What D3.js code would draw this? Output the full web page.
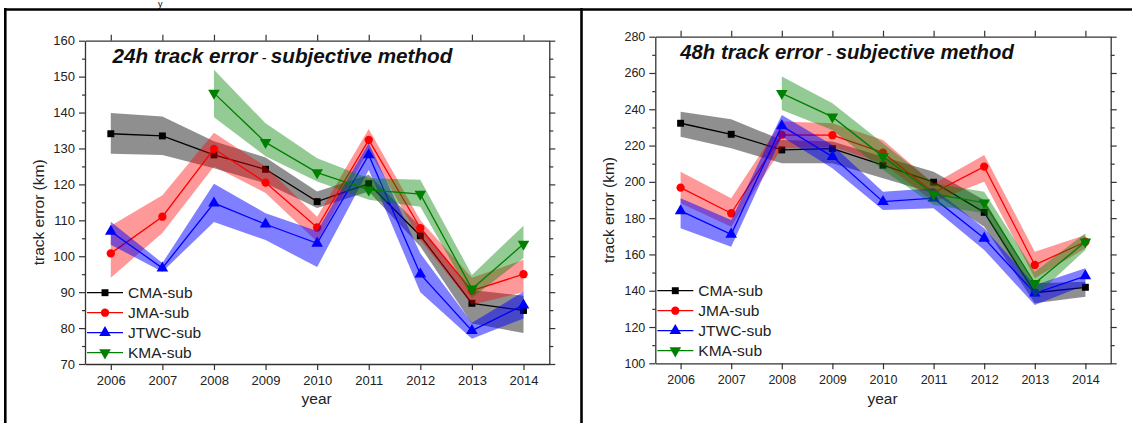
<!DOCTYPE html>
<html>
<head>
<meta charset="utf-8">
<script src="https://cdn.jsdelivr.net/npm/d3@7"></script>
<style>
  body { margin: 0; background: #fff; }
  svg { display: block; font-family: "Liberation Sans", Arial, sans-serif; }
</style>
</head>
<body>
<script>
// years on the x axis
const years = [2006, 2007, 2008, 2009, 2010, 2011, 2012, 2013, 2014]
const seriesNames = ["CMA-sub", "JMA-sub", "JTWC-sub", "KMA-sub"]

// 24h track error (km) + shaded band low/high
const cma24   = [134.1, 133.5, 128.2, 124.2, 115.2, 120.2, 105.7, 86.9, 84.9]
const cma24Lo = [128.5, 128.2, 124.5, 120.3, 113.4, 118.0, 102.7, 81.3, 78.6]
const cma24Hi = [139.9, 138.9, 132.0, 127.5, 118.0, 122.7, 108.3, 90.6, 89.0]
const jma24   = [100.8, 111.0, 129.9, 120.5, 108.0, 132.4, 107.8, 90.4, 95.0]
const jma24Lo = [94.0, 106.5, 125.0, 117.6, 104.0, 129.6, 104.5, 86.5, 90.0]
const jma24Hi = [108.5, 117.0, 134.4, 125.0, 111.0, 135.4, 110.0, 94.0, 99.0]
const jtwc24   = [106.9, 96.7, 114.8, 108.9, 103.6, 128.2, 95.0, 79.3, 86.4]
const jtwc24Lo = [103.2, 95.7, 109.5, 104.5, 97.0, 124.0, 90.0, 77.0, 82.7]
const jtwc24Hi = [109.6, 98.1, 120.2, 112.0, 107.0, 131.5, 100.8, 81.5, 90.1]
const kma24   = [null, null, 145.4, 131.7, 123.3, 118.5, 117.3, 90.9, 103.4]
const kma24Lo = [null, null, 138.7, 127.8, 120.8, 115.7, 113.8, 88.4, 99.5]
const kma24Hi = [null, null, 151.9, 137.0, 127.3, 121.7, 121.3, 94.8, 108.5]

// 48h track error (km)
const cma48   = [232.3, 226.2, 217.6, 218.3, 209.2, 199.8, 183.2, 138.9, 141.9]
const cma48Lo = [224.9, 218.5, 210.3, 210.3, 202.0, 193.7, 175.3, 133.1, 136.7]
const cma48Hi = [238.7, 234.5, 223.1, 222.2, 213.9, 205.6, 190.0, 144.1, 145.0]
const jma48   = [196.8, 182.7, 225.9, 225.7, 216.1, 194.0, 208.4, 154.2, 167.0]
const jma48Lo = [188.2, 175.3, 218.5, 219.4, 210.3, 189.0, 200.1, 146.9, 163.4]
const jma48Hi = [205.6, 191.0, 233.2, 232.3, 223.1, 199.0, 214.8, 161.5, 170.7]
const jtwc48   = [184.0, 171.1, 230.8, 213.9, 189.1, 191.0, 168.9, 138.6, 148.1]
const jtwc48Lo = [174.4, 164.3, 224.9, 207.5, 184.5, 185.4, 162.5, 132.1, 143.2]
const jtwc48Hi = [191.0, 179.0, 236.9, 220.3, 194.6, 196.5, 174.4, 143.2, 152.4]
const kma48   = [null, null, 248.8, 235.8, 213.9, 193.3, 188.5, 144.1, 167.0]
const kma48Lo = [null, null, 239.6, 228.6, 206.6, 187.3, 182.7, 136.7, 162.5]
const kma48Hi = [null, null, 258.0, 243.3, 221.3, 199.2, 194.6, 150.5, 171.7]

const ticks24 = [70, 80, 90, 100, 110, 120, 130, 140, 150, 160]
const ticks48 = [100, 120, 140, 160, 180, 200, 220, 240, 260, 280]

const colors = ["#000000", "#ff0000", "#0000ff", "#008000"]
const bandOpacity = [0.44, 0.4, 0.5, 0.42]
const symbols = [d3.symbolSquare, d3.symbolCircle, d3.symbolTriangle, d3.symbolTriangle]

const W = 1132, H = 423
const svg = d3.select("body").append("svg").attr("width", W).attr("height", H)

// frame of the table the figure sits in (plus a caption fragment above it)
svg.append("text").attr("x", 158).attr("y", 7).attr("font-size", 9).text("y")
svg.append("line").attr("x1", 4).attr("x2", W).attr("y1", 9.5).attr("y2", 9.5)
  .attr("stroke", "#000").attr("stroke-width", 2.6)
svg.append("line").attr("x1", 5.3).attr("x2", 5.3).attr("y1", 8).attr("y2", H)
  .attr("stroke", "#000").attr("stroke-width", 2.6)
svg.append("line").attr("x1", 581.5).attr("x2", 581.5).attr("y1", 8).attr("y2", H)
  .attr("stroke", "#000").attr("stroke-width", 2.6)

function panel(p) {
  const x = d3.scaleLinear().domain([2005.5, 2014.5]).range([p.left, p.right])
  const y = d3.scaleLinear().domain(p.domain).range([p.bottom, p.top])
  const g = svg.append("g")

  // series: band then line then markers
  p.series.forEach((s, i) => {
    const pts = years.map((yr, k) => ({ yr, v: s.v[k], lo: s.lo[k], hi: s.hi[k] }))
    const area = d3.area().defined(d => d.v != null)
      .x(d => x(d.yr)).y0(d => y(d.lo)).y1(d => y(d.hi))
    const line = d3.line().defined(d => d.v != null)
      .x(d => x(d.yr)).y(d => y(d.v))
    g.append("path").attr("d", area(pts))
      .attr("fill", colors[i]).attr("fill-opacity", bandOpacity[i])
    g.append("path").attr("d", line(pts))
      .attr("fill", "none").attr("stroke", colors[i]).attr("stroke-width", 1.3)
    g.selectAll(null).data(pts.filter(d => d.v != null)).enter()
      .append("path")
      .attr("d", d3.symbol().type(symbols[i]).size(i == 1 ? 54 : i == 0 ? 48 : 58))
      .attr("transform", d => `translate(${x(d.yr)},${y(d.v)})` + (i == 3 ? " rotate(180)" : ""))
      .attr("fill", colors[i])
  })

  // axes
  const minor = d3.range(p.domain[0], p.domain[1] + 0.01, p.minorStep).filter(v => !p.ticks.includes(v))
  const axisStyle = a => {
    a.selectAll(".domain").attr("stroke", "#333").attr("stroke-width", 1.3)
    a.selectAll(".tick line").attr("stroke", "#333").attr("stroke-width", 1.2)
    a.selectAll(".tick text").attr("fill", "#222").attr("font-size", p.tickFont)
      .attr("font-family", "Liberation Sans, Arial, sans-serif")
  }
  g.append("g").attr("transform", `translate(${p.left},0)`)
    .call(d3.axisLeft(y).tickValues(p.ticks).tickSize(6).tickSizeOuter(0).tickPadding(4))
    .call(axisStyle)
  g.append("g").attr("transform", `translate(${p.left},0)`)
    .call(d3.axisLeft(y).tickValues(minor).tickSize(3).tickFormat("")).call(axisStyle)
    .select(".domain").remove()
  g.append("g").attr("transform", `translate(${p.right},0)`)
    .call(d3.axisRight(y).tickValues(p.ticks).tickSize(6).tickSizeOuter(0).tickFormat(""))
    .call(axisStyle)
  g.append("g").attr("transform", `translate(${p.right},0)`)
    .call(d3.axisRight(y).tickValues(minor).tickSize(4).tickFormat("")).call(axisStyle)
    .select(".domain").remove()
  g.append("g").attr("transform", `translate(0,${p.bottom})`)
    .call(d3.axisBottom(x).tickValues(years).tickFormat(d3.format("d")).tickSize(6).tickSizeOuter(0).tickPadding(6))
    .call(axisStyle)
  g.append("g").attr("transform", `translate(0,${p.top})`)
    .call(d3.axisTop(x).tickValues(years).tickFormat("").tickSize(6).tickSizeOuter(0))
    .call(axisStyle)

  // axis titles
  g.append("text").attr("transform", `translate(${p.ylabX},${(p.top + p.bottom) / 2 + 10}) rotate(-90)`)
    .attr("text-anchor", "middle").attr("font-size", 15.5).attr("fill", "#222").text("track error (km)")
  g.append("text").attr("x", (p.left + p.right) / 2 - 0.5).attr("y", 403.5)
    .attr("text-anchor", "middle").attr("font-size", 15.5).attr("fill", "#222").text("year")

  // title
  const t = g.append("text").attr("x", p.left + p.titleDx).attr("y", p.titleY)
    .attr("font-size", p.titleSize).attr("font-weight", "bold").attr("font-style", "italic").attr("fill", "#111")
  t.append("tspan").text(p.title)
  t.append("tspan").attr("font-weight", "normal").attr("font-size", 15).text(" - ")
  t.append("tspan").text("subjective method")

  // legend
  seriesNames.forEach((name, i) => {
    const ly = p.legY + i * 20
    g.append("line").attr("x1", p.left + 2).attr("x2", p.left + 38).attr("y1", ly).attr("y2", ly)
      .attr("stroke", colors[i]).attr("stroke-width", 1.3)
    g.append("path").attr("d", d3.symbol().type(symbols[i]).size(i == 1 ? 54 : i == 0 ? 48 : 58))
      .attr("transform", `translate(${p.left + 20},${ly})` + (i == 3 ? " rotate(180)" : ""))
      .attr("fill", colors[i])
    g.append("text").attr("x", p.left + 43).attr("y", ly).attr("dy", "0.35em")
      .attr("font-size", 15.5).attr("fill", "#222").text(name)
  })
}

panel({
  left: 85, right: 549.3, top: 40.7, bottom: 364, domain: [70, 160],
  ticks: ticks24, minorStep: 5, tickFont: 13, ylabX: 43.5,
  title: "24h track error", titleDx: 27.5, titleY: 62.5, titleSize: 20.7, legY: 292.7,
  series: [
    { v: cma24, lo: cma24Lo, hi: cma24Hi },
    { v: jma24, lo: jma24Lo, hi: jma24Hi },
    { v: jtwc24, lo: jtwc24Lo, hi: jtwc24Hi },
    { v: kma24, lo: kma24Lo, hi: kma24Hi }
  ]
})

panel({
  left: 655.3, right: 1110.7, top: 36.7, bottom: 363.3, domain: [100, 280],
  ticks: ticks48, minorStep: 10, tickFont: 12.5, ylabX: 614,
  title: "48h track error", titleDx: 25, titleY: 58.5, titleSize: 20.3, legY: 290.7,
  series: [
    { v: cma48, lo: cma48Lo, hi: cma48Hi },
    { v: jma48, lo: jma48Lo, hi: jma48Hi },
    { v: jtwc48, lo: jtwc48Lo, hi: jtwc48Hi },
    { v: kma48, lo: kma48Lo, hi: kma48Hi }
  ]
})
</script>
</body>
</html>
